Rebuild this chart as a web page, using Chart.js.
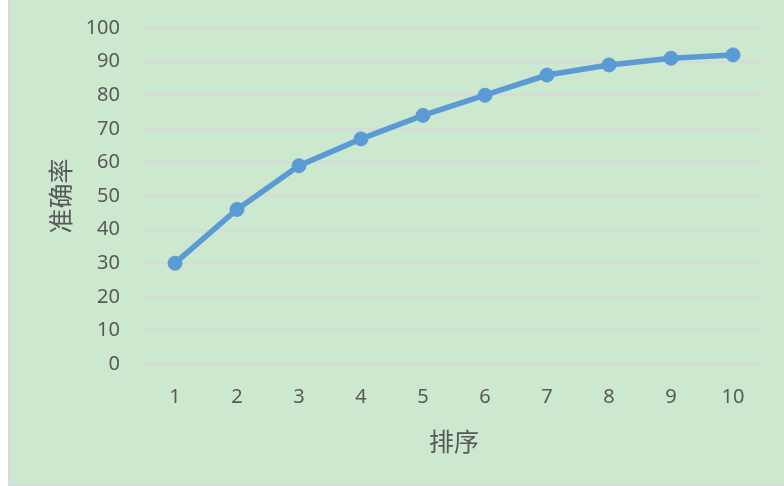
<!DOCTYPE html>
<html>
<head>
<meta charset="utf-8">
<script src="https://cdn.jsdelivr.net/npm/chart.js@4"></script>
<style>
  html, body { margin: 0; padding: 0; background: #fff; }
  #frame {
    position: absolute; left: 8px; top: 0;
    width: 774px; height: 484px;
    background: #cce8cf;
    border-left: 2px solid #d9d9d9;
    border-bottom: 2px solid #d9d9d9;
  }
</style>
</head>
<body>
<div id="frame"><canvas id="myChart" width="774" height="484"></canvas></div>
<script>
var ranks = ['1', '2', '3', '4', '5', '6', '7', '8', '9', '10'];
var accuracy = [30, 46, 59, 67, 74, 80, 86, 89, 91, 92];
var yTicks = [0, 10, 20, 30, 40, 50, 60, 70, 80, 90, 100];

var textColor = '#595959';
var numFont = { family: "'Noto Sans', 'Noto Sans CJK SC', sans-serif", size: 20 };
var titleFont = { family: "'Noto Sans CJK SC', 'Noto Sans', sans-serif", size: 25 };

var ctx = document.getElementById('myChart').getContext('2d');
var myChart = new Chart(ctx, {
    type: 'line',
    data: {
        labels: ranks,
        datasets: [{
            label: '准确率',
            data: accuracy,
            borderColor: '#5b9bd5',
            backgroundColor: '#5b9bd5',
            borderWidth: 5.5,
            pointRadius: 7,
            pointBorderWidth: 1,
            pointHoverRadius: 7,
            tension: 0
        }]
    },
    options: {
        responsive: false,
        animation: false,
        layout: { padding: { top: 28, right: 20 } },
        plugins: {
            legend: { display: false },
            tooltip: { enabled: false }
        },
        scales: {
            x: {
                offset: true,
                grid: { display: false },
                border: { display: false },
                ticks: { color: textColor, font: numFont, padding: 13, maxRotation: 0 },
                title: {
                    display: true, text: '排序', color: textColor, font: titleFont,
                    padding: { top: 0, bottom: 28 }
                },
                afterFit: function(scale) { scale.height = 120; }
            },
            y: {
                min: 0,
                max: 100,
                afterBuildTicks: function(scale) {
                    scale.ticks = yTicks.map(function(v) { return { value: v }; });
                },
                grid: { color: '#d9d9d9', lineWidth: 2, drawTicks: false },
                border: { display: false },
                ticks: { color: textColor, font: numFont, padding: 24 },
                title: {
                    display: true, text: '准确率', color: textColor, font: titleFont,
                    padding: { top: 35, bottom: 0 }
                },
                afterFit: function(scale) {
                    // fixed axis width, and no extra room for the top label
                    scale.width = 134;
                    scale.paddingTop = 0;
                    scale.paddingBottom = 0;
                }
            }
        }
    }
});
</script>
</body>
</html>
